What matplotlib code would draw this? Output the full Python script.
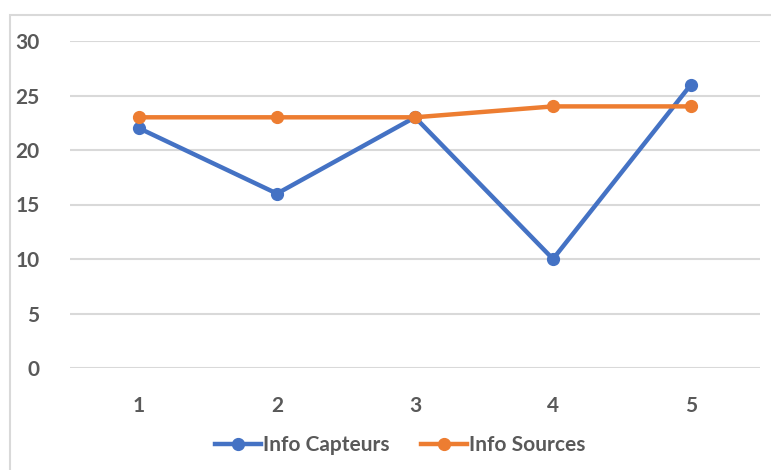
import matplotlib.pyplot as plt
from matplotlib.patches import Rectangle

categories = [1, 2, 3, 4, 5]
info_capteurs = [22, 16, 23, 10, 26]
info_sources = [23, 23, 23, 24, 24]
y_ticks = [0, 5, 10, 15, 20, 25, 30]

plt.rcParams['font.family'] = ['Lato', 'DejaVu Sans']
text_color = '#595959'
grid_color = '#d9d9d9'

fig = plt.figure(figsize=(7.71, 4.70), dpi=100)
# chart border (Excel-like frame, cut by the image edge)
fig.patches.append(Rectangle((10 / 771, -0.1), 1.0, 1 - 15 / 470 + 0.1,
                             transform=fig.transFigure, fill=False,
                             edgecolor=grid_color, linewidth=1.5))

ax = fig.add_axes([70 / 771, 102 / 470, 690 / 771, 327 / 470])
ax.plot(categories, info_capteurs, color='#4472C4', lw=3.2, marker='o', ms=8.5,
        label='Info Capteurs', zorder=3)
ax.plot(categories, info_sources, color='#ED7D31', lw=3.2, marker='o', ms=8.5,
        label='Info Sources', zorder=3)

ax.set_xlim(0.5, 5.5)
ax.set_ylim(0, 30)
ax.set_yticks(y_ticks)
ax.set_xticks(categories)
ax.grid(axis='y', color=grid_color, lw=1.5)
ax.set_axisbelow(True)
for s in ax.spines.values():
    s.set_visible(False)
ax.tick_params(length=0, labelsize=15, labelcolor=text_color)
ax.tick_params(axis='y', pad=22)
ax.tick_params(axis='x', pad=20)
for lbl in ax.get_xticklabels() + ax.get_yticklabels():
    lbl.set_fontweight('bold')

leg = ax.legend(loc='center', bbox_to_anchor=(400 / 771, 25 / 470),
                bbox_transform=fig.transFigure, ncol=2, frameon=False,
                handlelength=2.2, handletextpad=0.1, columnspacing=1.5,
                prop={'size': 15, 'weight': 'bold'})
for t in leg.get_texts():
    t.set_color(text_color)

fig.savefig('out.png', dpi=100)
